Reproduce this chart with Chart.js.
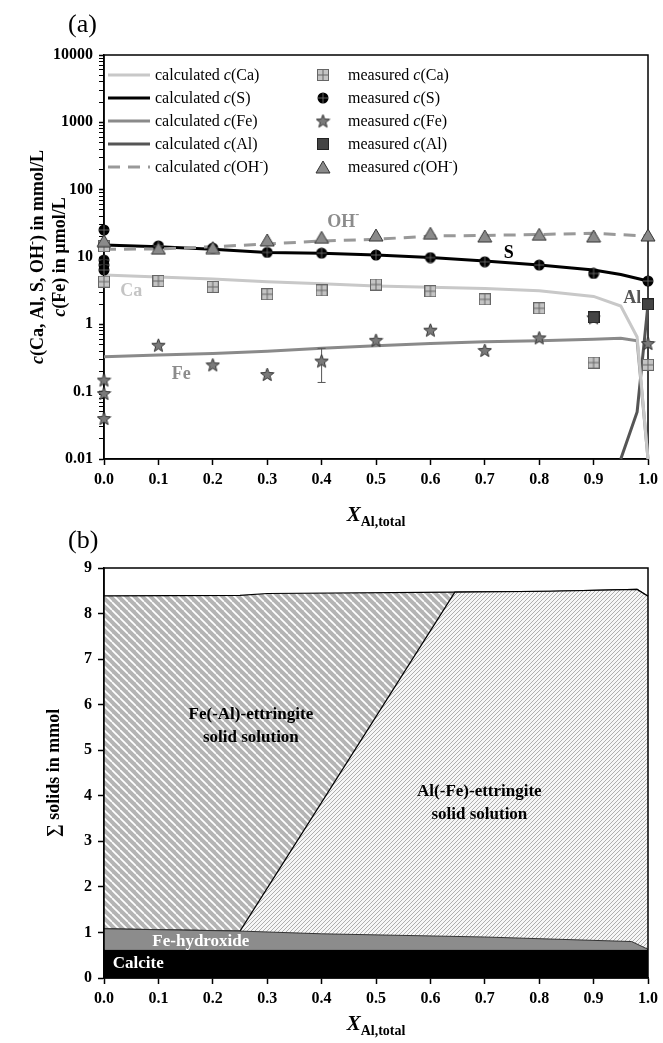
<!DOCTYPE html>
<html>
<head>
<meta charset="utf-8">
<script src="https://cdn.jsdelivr.net/npm/chart.js@4"></script>
<style>
  body { margin: 0; background: #fff; }
  #boxA { position: absolute; left: 0; top: 0; width: 663px; height: 530px; }
  #boxB { position: absolute; left: 0; top: 530px; width: 663px; height: 513px; }
</style>
</head>
<body>
<div id="boxA"><canvas id="chartA"></canvas></div>
<div id="boxB"><canvas id="chartB"></canvas></div>
<script>
const SERIF = '"Liberation Serif", "Times New Roman", serif';

// ---- panel (a): concentrations vs X_Al,total ----
const xTicks = [0, 0.1, 0.2, 0.3, 0.4, 0.5, 0.6, 0.7, 0.8, 0.9, 1.0];
const yTicksA = [0.01, 0.1, 1, 10, 100, 1000, 10000];
const species = ['Ca', 'S', 'Fe', 'Al', 'OH'];

const calcCaX = [0, 0.1, 0.2, 0.3, 0.4, 0.5, 0.6, 0.7, 0.8, 0.9, 0.95, 0.98, 1.0];
const calcCa  = [5.4, 5.05, 4.7, 4.3, 4.0, 3.7, 3.55, 3.4, 3.15, 2.6, 1.87, 0.65, 0.01];
const calcSX  = [0, 0.1, 0.2, 0.3, 0.4, 0.5, 0.6, 0.7, 0.8, 0.9, 0.95, 1.0];
const calcS   = [15.1, 14.2, 13.0, 11.7, 11.4, 10.7, 9.8, 8.7, 7.6, 6.4, 5.5, 4.4];
const calcFeX = [0, 0.1, 0.2, 0.3, 0.4, 0.5, 0.6, 0.7, 0.8, 0.9, 0.95, 0.98, 1.0];
const calcFe  = [0.33, 0.35, 0.37, 0.40, 0.44, 0.48, 0.52, 0.55, 0.57, 0.60, 0.62, 0.57, 0.01];
const calcAlX = [0.95, 0.98, 1.0];
const calcAl  = [0.01, 0.05, 1.98];
const calcOHX = [0, 0.1, 0.2, 0.3, 0.4, 0.5, 0.6, 0.7, 0.8, 0.9, 1.0];
const calcOH  = [13.0, 13.2, 14.2, 15.6, 17.3, 18.3, 20.5, 20.9, 21.6, 22.5, 20.5];

const measCaX = [0, 0, 0.1, 0.2, 0.3, 0.4, 0.5, 0.6, 0.7, 0.8, 0.9, 1.0];
const measCa  = [14.5, 4.3, 4.4, 3.6, 2.8, 3.2, 3.9, 3.1, 2.35, 1.73, 0.27, 0.25];
const measSX  = [0, 0, 0, 0, 0.1, 0.2, 0.3, 0.4, 0.5, 0.6, 0.7, 0.8, 0.9, 1.0];
const measS   = [25.2, 9.0, 7.6, 6.4, 14.6, 13.5, 11.7, 11.4, 10.7, 9.8, 8.5, 7.6, 5.7, 4.4];
const measFeX = [0, 0, 0, 0.1, 0.2, 0.3, 0.4, 0.5, 0.6, 0.7, 0.8, 0.9, 1.0];
const measFe  = [0.149, 0.094, 0.04, 0.49, 0.25, 0.18, 0.285, 0.58, 0.82, 0.41, 0.63, 1.25, 0.52];
const measAlX = [0.9, 1.0];
const measAl  = [1.27, 1.98];
const measOHX = [0, 0.1, 0.2, 0.3, 0.4, 0.5, 0.6, 0.7, 0.8, 0.9, 1.0];
const measOH  = [17.5, 13.5, 13.8, 17.9, 19.6, 21.2, 22.5, 20.5, 21.7, 20.5, 21.2];
const feErrX  = [0.4, 0.4];
const feErr   = [0.137, 0.44];

// ---- panel (b): solids ----
const yTicksB   = [0, 1, 2, 3, 4, 5, 6, 7, 8, 9];
const calciteX  = [0, 1.0];
const calcite   = [0.62, 0.62];
const feOHX     = [0, 0.25, 0.4, 0.7, 0.97, 1.0];
const feOHTop   = [1.08, 1.03, 0.97, 0.90, 0.80, 0.63];
const alEttX    = [0, 0.25, 0.645, 0.82, 0.98, 1.0];
const alEttTop  = [1.08, 1.03, 8.47, 8.49, 8.53, 8.38];
const totalX    = [0, 0.25, 0.3, 0.645, 0.82, 0.98, 1.0];
const totalTop  = [8.39, 8.40, 8.44, 8.47, 8.49, 8.53, 8.38];

const pts = (xs, ys) => xs.map((x, i) => ({ x: x, y: ys[i] }));

// marker images
function marker(w, h, draw) {
  const c = document.createElement('canvas');
  c.width = w; c.height = h;
  draw(c.getContext('2d'), w, h);
  return c;
}
const mkCa = marker(12, 12, (g) => {
  g.fillStyle = '#c4c4c4'; g.fillRect(0.5, 0.5, 11, 11);
  g.strokeStyle = '#666'; g.lineWidth = 1; g.strokeRect(0.5, 0.5, 11, 11);
  g.beginPath(); g.moveTo(6, 1); g.lineTo(6, 11); g.moveTo(1, 6); g.lineTo(11, 6); g.stroke();
});
const mkAl = marker(12, 12, (g) => {
  g.fillStyle = '#444'; g.fillRect(0.5, 0.5, 11, 11);
  g.strokeStyle = '#222'; g.lineWidth = 1; g.strokeRect(0.5, 0.5, 11, 11);
});
const mkS = marker(12, 12, (g) => {
  g.fillStyle = '#000'; g.beginPath(); g.arc(6, 6, 5.5, 0, Math.PI * 2); g.fill();
  g.strokeStyle = '#777'; g.lineWidth = 0.8;
  g.beginPath(); g.moveTo(6, 1); g.lineTo(6, 11); g.moveTo(1, 6); g.lineTo(11, 6); g.stroke();
});
const mkFe = marker(15, 15, (g) => {
  g.beginPath();
  for (let i = 0; i < 10; i++) {
    const r = i % 2 ? 3 : 7;
    const a = -Math.PI / 2 + i * Math.PI / 5;
    const px = 7.5 + r * Math.cos(a), py = 8 + r * Math.sin(a);
    i ? g.lineTo(px, py) : g.moveTo(px, py);
  }
  g.closePath();
  g.fillStyle = '#7a7a7a'; g.fill();
  g.strokeStyle = '#333'; g.lineWidth = 1; g.stroke();
});
const mkOH = marker(16, 14, (g) => {
  g.beginPath(); g.moveTo(8, 1); g.lineTo(15, 13); g.lineTo(1, 13); g.closePath();
  g.fillStyle = '#8a8a8a'; g.fill();
  g.strokeStyle = '#333'; g.lineWidth = 1; g.stroke();
});

function richText(ctx, parts, x, y, align) {
  let w = 0;
  parts.forEach(p => { ctx.font = p.f; w += ctx.measureText(p.t).width; });
  let cx = align === 'center' ? x - w / 2 : (align === 'right' ? x - w : x);
  ctx.textAlign = 'left';
  parts.forEach(p => {
    ctx.font = p.f;
    ctx.fillText(p.t, cx, y + (p.dy || 0));
    cx += ctx.measureText(p.t).width;
  });
}
const fB = (s) => 'bold ' + s + 'px ' + SERIF;
const fBI = (s) => 'italic bold ' + s + 'px ' + SERIF;
const fR = (s) => s + 'px ' + SERIF;
const fI = (s) => 'italic ' + s + 'px ' + SERIF;

function logTicks(majors) {
  const out = [];
  majors.forEach((m, i) => {
    out.push(m);
    if (i < majors.length - 1) for (let k = 2; k <= 9; k++) out.push(m * k);
  });
  return out;
}

const tickFont = { family: SERIF, size: 16, weight: 'bold' };

function frame(hook) {
  return {
    id: 'frame',
    [hook]: (chart) => {
      const { ctx, chartArea: a } = chart;
      ctx.save();
      ctx.strokeStyle = '#000'; ctx.lineWidth = 1.5;
      ctx.strokeRect(a.left, a.top, a.right - a.left, a.bottom - a.top);
      ctx.restore();
    }
  };
}

function xTitle(ctx, cx, base) {
  ctx.fillStyle = '#000';
  ctx.textBaseline = 'alphabetic';
  richText(ctx, [{ t: 'X', f: fBI(21) }, { t: 'Al,total', f: fB(14), dy: 5 }], cx, base, 'center');
}
function yTitle(ctx, parts, cx, cy, size) {
  ctx.save();
  ctx.translate(cx, cy);
  ctx.rotate(-Math.PI / 2);
  ctx.fillStyle = '#000';
  ctx.textBaseline = 'alphabetic';
  richText(ctx, parts, 0, size * 0.33, 'center');
  ctx.restore();
}

// ---------- chart (a) ----------
const lineBase = { showLine: true, pointRadius: 0, borderWidth: 3, tension: 0, clip: false, fill: false };
const dotBase = { showLine: false, pointRadius: 6, clip: false };

const dsA = [
  { ...dotBase, label: 'measured c(OH-)', data: pts(measOHX, measOH), pointStyle: mkOH },
  { ...dotBase, label: 'measured c(S)', data: pts(measSX, measS), pointStyle: mkS },
  { ...dotBase, label: 'measured c(Ca)', data: pts(measCaX, measCa), pointStyle: mkCa },
  { ...dotBase, label: 'measured c(Al)', data: pts(measAlX, measAl), pointStyle: mkAl },
  { ...dotBase, label: 'measured c(Fe)', data: pts(measFeX, measFe), pointStyle: mkFe },
  { label: 'Fe error', data: pts(feErrX, feErr), showLine: true, borderColor: '#555', borderWidth: 1,
    pointStyle: 'line', pointRadius: 4, pointBorderColor: '#555', pointBorderWidth: 1, clip: false },
  { ...lineBase, label: 'calculated c(OH-)', data: pts(calcOHX, calcOH), borderColor: '#999', borderDash: [12, 8] },
  { ...lineBase, label: 'calculated c(S)', data: pts(calcSX, calcS), borderColor: '#000' },
  { ...lineBase, label: 'calculated c(Ca)', data: pts(calcCaX, calcCa), borderColor: '#c8c8c8' },
  { ...lineBase, label: 'calculated c(Fe)', data: pts(calcFeX, calcFe), borderColor: '#8a8a8a' },
  { ...lineBase, label: 'calculated c(Al)', data: pts(calcAlX, calcAl), borderColor: '#555' }
];
// legend rows: species order -> [calculated dataset index, measured dataset index]
const legendIdx = { Ca: [8, 2], S: [7, 1], Fe: [9, 4], Al: [10, 3], OH: [6, 0] };

const labelsA = [
  { t: 'OH', sup: '-', x: 0.44, y: 33, color: '#8c8c8c' },
  { t: 'S', x: 0.744, y: 11.5, color: '#000' },
  { t: 'Ca', x: 0.05, y: 3.07, color: '#c4c4c4' },
  { t: 'Fe', x: 0.142, y: 0.183, color: '#8c8c8c' },
  { t: 'Al', x: 0.971, y: 2.43, color: '#555' }
];

const textA = {
  id: 'textA',
  afterDraw(chart) {
    const { ctx, scales: { x, y }, chartArea: a } = chart;
    ctx.save();
    ctx.fillStyle = '#000';
    ctx.textBaseline = 'alphabetic';
    ctx.font = fR(26); ctx.textAlign = 'left';
    ctx.fillText('(a)', 68, 32);
    xTitle(ctx, (a.left + a.right) / 2, 521);
    const cy = (a.top + a.bottom) / 2;
    yTitle(ctx, [{ t: 'c', f: fBI(18) }, { t: '(Ca, Al, S, OH', f: fB(18) }, { t: '-', f: fB(12), dy: -7 },
      { t: ') in mmol/L', f: fB(18) }], 37, cy, 18);
    yTitle(ctx, [{ t: 'c', f: fBI(18) }, { t: '(Fe) in \u00b5mol/L', f: fB(18) }], 59, cy, 18);

    // curve labels
    ctx.textBaseline = 'middle';
    labelsA.forEach(l => {
      ctx.fillStyle = l.color;
      const parts = [{ t: l.t, f: fB(18) }];
      if (l.sup) parts.push({ t: l.sup, f: fB(12), dy: -7 });
      richText(ctx, parts, x.getPixelForValue(l.x), y.getPixelForValue(l.y), 'center');
    });

    // legend, two columns
    species.forEach((sp, i) => {
      const ry = 75 + i * 23;
      const calc = chart.data.datasets[legendIdx[sp][0]];
      const meas = chart.data.datasets[legendIdx[sp][1]];
      ctx.save();
      ctx.strokeStyle = calc.borderColor; ctx.lineWidth = 3;
      ctx.setLineDash(calc.borderDash || []);
      ctx.beginPath(); ctx.moveTo(108, ry); ctx.lineTo(150, ry); ctx.stroke();
      ctx.restore();
      const img = meas.pointStyle;
      ctx.drawImage(img, 323 - img.width / 2, ry - img.height / 2);
      const spParts = sp === 'OH'
        ? [{ t: '(OH', f: fR(16) }, { t: '-', f: fR(11), dy: -6 }, { t: ')', f: fR(16) }]
        : [{ t: '(' + sp + ')', f: fR(16) }];
      ctx.fillStyle = '#000';
      richText(ctx, [{ t: 'calculated ', f: fR(16) }, { t: 'c', f: fI(16) }].concat(spParts), 155, ry + 1, 'left');
      richText(ctx, [{ t: 'measured ', f: fR(16) }, { t: 'c', f: fI(16) }].concat(spParts), 348, ry + 1, 'left');
    });
    ctx.restore();
  }
};

new Chart(document.getElementById('chartA'), {
  type: 'line',
  data: { datasets: dsA },
  options: {
    responsive: true, maintainAspectRatio: false, animation: false,
    layout: { padding: { left: 0, right: 11, top: 55, bottom: 0 } },
    plugins: { legend: { display: false }, tooltip: { enabled: false } },
    scales: {
      x: {
        type: 'linear', min: 0, max: 1,
        afterBuildTicks: s => { s.ticks = xTicks.map(v => ({ value: v })); },
        afterFit: s => { s.height = 71; },
        ticks: { autoSkip: false, maxRotation: 0, padding: 5, color: '#000', font: tickFont,
          callback: v => v.toFixed(1) },
        grid: { drawOnChartArea: false, tickLength: 6, color: '#000', tickWidth: 1.5 },
        border: { color: '#000', width: 1.5 }
      },
      y: {
        type: 'logarithmic', min: 0.01, max: 10000,
        afterBuildTicks: s => { s.ticks = logTicks(yTicksA).map(v => ({ value: v, major: yTicksA.includes(v) })); },
        afterFit: s => { s.width = 104; },
        ticks: { autoSkip: false, padding: 6, color: '#000', font: tickFont,
          callback: v => yTicksA.includes(v) ? String(v) : '' },
        grid: { drawOnChartArea: false, tickLength: 5, color: '#000',
          tickWidth: c => (c.tick && c.tick.major ? 1.5 : 1) },
        border: { color: '#000', width: 1.5 }
      }
    }
  },
  plugins: [frame('beforeDatasetsDraw'), textA]
});

// ---------- chart (b) ----------
const ctxB = document.getElementById('chartB').getContext('2d');
function stripes(period, bg, fg, lw, dir) {
  const c = document.createElement('canvas');
  c.width = c.height = period;
  const g = c.getContext('2d');
  g.fillStyle = bg; g.fillRect(0, 0, period, period);
  g.strokeStyle = fg; g.lineWidth = lw;
  [-period, 0, period].forEach(o => {
    g.beginPath();
    if (dir === '\\') { g.moveTo(o, 0); g.lineTo(o + period, period); }
    else { g.moveTo(o, period); g.lineTo(o + period, 0); }
    g.stroke();
  });
  return ctxB.createPattern(c, 'repeat');
}
const coarseHatch = stripes(8, '#b4b4b4', '#ffffff', 1.7, '\\');
const fineHatch = stripes(4, '#f6f6f6', '#a6a6a6', 0.9, '/');

const areaBase = { showLine: true, pointRadius: 0, tension: 0, clip: false };
const dsB = [
  { ...areaBase, label: 'Calcite', data: pts(calciteX, calcite), fill: 'origin',
    backgroundColor: '#000', borderColor: '#000', borderWidth: 0 },
  { ...areaBase, label: 'Fe-hydroxide', data: pts(feOHX, feOHTop), fill: '-1',
    backgroundColor: '#8c8c8c', borderColor: '#333', borderWidth: 1 },
  { ...areaBase, label: 'Al(-Fe)-ettringite solid solution', data: pts(alEttX, alEttTop), fill: '-1',
    backgroundColor: fineHatch, borderColor: '#000', borderWidth: 1.2 },
  { ...areaBase, label: 'Fe(-Al)-ettringite solid solution', data: pts(totalX, totalTop), fill: '-1',
    backgroundColor: coarseHatch, borderColor: '#000', borderWidth: 1.2 }
];

const labelsB = [
  { lines: ['Fe(-Al)-ettringite', 'solid solution'], x: 0.27, y: 5.78, color: '#000', align: 'center' },
  { lines: ['Al(-Fe)-ettringite', 'solid solution'], x: 0.69, y: 4.09, color: '#000', align: 'center' },
  { lines: ['Fe-hydroxide'], x: 0.178, y: 0.79, color: '#fff', align: 'center' },
  { lines: ['Calcite'], x: 0.016, y: 0.31, color: '#fff', align: 'left' }
];

const textB = {
  id: 'textB',
  afterDraw(chart) {
    const { ctx, scales: { x, y }, chartArea: a } = chart;
    ctx.save();
    ctx.fillStyle = '#000';
    ctx.textBaseline = 'alphabetic';
    ctx.font = fR(26); ctx.textAlign = 'left';
    ctx.fillText('(b)', 68, 18);
    xTitle(ctx, (a.left + a.right) / 2, 500);
    yTitle(ctx, [{ t: '\u2211 solids in mmol', f: fB(18) }], 53, (a.top + a.bottom) / 2, 18);
    ctx.textBaseline = 'middle';
    labelsB.forEach(l => {
      ctx.fillStyle = l.color;
      l.lines.forEach((line, i) => {
        richText(ctx, [{ t: line, f: fB(17) }], x.getPixelForValue(l.x),
          y.getPixelForValue(l.y) + i * 23.3, l.align);
      });
    });
    ctx.restore();
  }
};

new Chart(ctxB, {
  type: 'line',
  data: { datasets: dsB },
  options: {
    responsive: true, maintainAspectRatio: false, animation: false,
    layout: { padding: { left: 0, right: 12, top: 38, bottom: 0 } },
    plugins: { legend: { display: false }, tooltip: { enabled: false } },
    scales: {
      x: {
        type: 'linear', min: 0, max: 1,
        afterBuildTicks: s => { s.ticks = xTicks.map(v => ({ value: v })); },
        afterFit: s => { s.height = 65; },
        ticks: { autoSkip: false, maxRotation: 0, padding: 5, color: '#000', font: tickFont,
          callback: v => v.toFixed(1) },
        grid: { drawOnChartArea: false, tickLength: 6, color: '#000', tickWidth: 1.5 },
        border: { color: '#000', width: 1.5 }
      },
      y: {
        type: 'linear', min: 0, max: 9,
        afterBuildTicks: s => { s.ticks = yTicksB.map(v => ({ value: v })); },
        afterFit: s => { s.width = 104; },
        ticks: { autoSkip: false, padding: 6, color: '#000', font: tickFont },
        grid: { drawOnChartArea: false, tickLength: 6, color: '#000', tickWidth: 1.5 },
        border: { color: '#000', width: 1.5 }
      }
    }
  },
  plugins: [frame('afterDatasetsDraw'), textB]
});
</script>
</body>
</html>
